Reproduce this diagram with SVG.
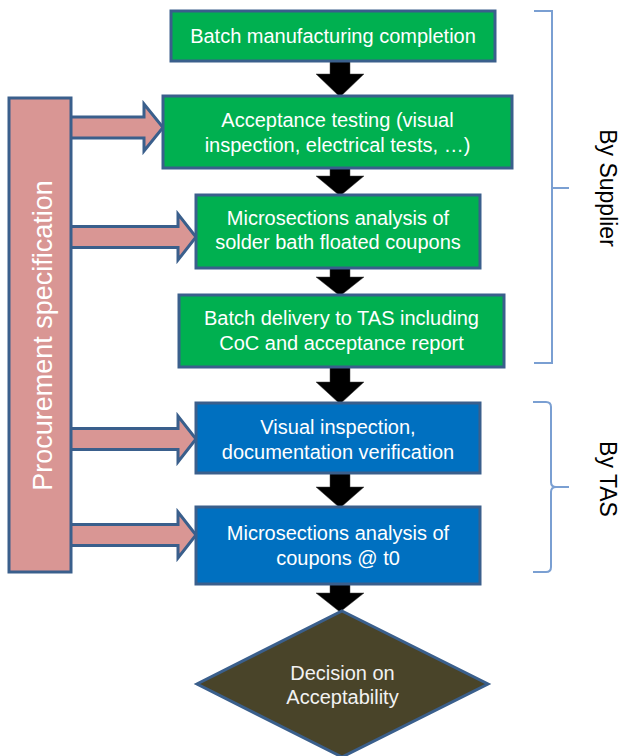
<svg xmlns="http://www.w3.org/2000/svg" width="622" height="756" viewBox="0 0 622 756">
<defs>
<style>
.box{stroke:#3A5F8C;stroke-width:3}
.green{fill:#00B050}
.blue{fill:#0070C0}
.t{font-family:"Liberation Sans",Arial,sans-serif;font-size:20px;fill:#FFFFFF;text-anchor:middle}
.side{font-family:"Liberation Sans",Arial,sans-serif;font-size:23px;fill:#000000;text-anchor:middle}
.pk{fill:#D99694;stroke:#3A5F8C;stroke-width:3;stroke-linejoin:miter}
.blk{fill:#000000;stroke:#404040;stroke-width:0.5}
.brace{fill:none;stroke:#7A9FD2;stroke-width:2}
</style>
</defs>
<rect width="622" height="756" fill="#FFFFFF"/>
<g id="connectors">
<polygon class="blk" points="330,61 350,61 350,74 364,74 340,97 316,74 330,74"/>
<polygon class="blk" points="330,168 350,168 350,176 364,176 340,196 316,176 330,176"/>
<polygon class="blk" points="330,268 350,268 350,277 364,277 340,296 316,277 330,277"/>
<polygon class="blk" points="330,367 350,367 350,382 364,382 340,404 316,382 330,382"/>
<polygon class="blk" points="330,473 350,473 350,487 364,487 340,508 316,487 330,487"/>
<polygon class="blk" points="330,584 350,584 350,593 364,593 340,612 316,593 330,593"/>
<polygon class="pk" points="70,117 144,117 144,104 163,127.5 144,151 144,138 70,138"/>
<polygon class="pk" points="70,226.5 178,226.5 178,214 196,237 178,260 178,247.5 70,247.5"/>
<polygon class="pk" points="70,428.5 178,428.5 178,416 196,439 178,462 178,449.5 70,449.5"/>
<polygon class="pk" points="70,524.5 178,524.5 178,512 196,535 178,558 178,545.5 70,545.5"/>
</g>
<g id="procurement">
<rect x="9" y="98" width="62" height="474" fill="#D99694" stroke="#3A5F8C" stroke-width="3"/>
<text transform="translate(52,335.5) rotate(-90)" style="font-family:'Liberation Sans',Arial,sans-serif;font-size:27px;fill:#FFFFFF;text-anchor:middle">Procurement specification</text>
</g>
<g id="n1">
<rect class="box green" x="171" y="11" width="324" height="50"/>
<text class="t" x="333" y="43">Batch manufacturing completion</text>
</g>
<g id="n2">
<rect class="box green" x="163" y="96" width="349" height="72"/>
<text class="t" x="337.5" y="127">Acceptance testing (visual</text>
<text class="t" x="337.5" y="152">inspection, electrical tests, …)</text>
</g>
<g id="n3">
<rect class="box green" x="196" y="195" width="284" height="73"/>
<text class="t" x="338" y="225">Microsections analysis of</text>
<text class="t" x="338" y="249">solder bath floated coupons</text>
</g>
<g id="n4">
<rect class="box green" x="179" y="295" width="325" height="72"/>
<text class="t" x="341.5" y="325">Batch delivery to TAS including</text>
<text class="t" x="341.5" y="350">CoC and acceptance report</text>
</g>
<g id="n5">
<rect class="box blue" x="196" y="403" width="284" height="70"/>
<text class="t" x="338" y="434">Visual inspection,</text>
<text class="t" x="338" y="459">documentation verification</text>
</g>
<g id="n6">
<rect class="box blue" x="196" y="507" width="284" height="77"/>
<text class="t" x="338" y="540">Microsections analysis of</text>
<text class="t" x="338" y="565">coupons @ t0</text>
</g>
<g id="decision">
<polygon points="342,611 488,684 342,757 197,684" fill="#494429" stroke="#3A5F8C" stroke-width="3"/>
<text class="t" x="342.5" y="680" style="fill:#F2F2F2">Decision on</text>
<text class="t" x="342.5" y="704" style="fill:#F2F2F2">Acceptability</text>
</g>
<g id="by-supplier">
<path class="brace" d="M534,11 H552 V363 H534 M552,188 H569"/>
<text class="side" transform="translate(600,188) rotate(90)">By Supplier</text>
</g>
<g id="by-tas">
<path class="brace" d="M533,402 H546 Q551,402 551,407 V482 Q551,487 556,487 H569 M556,487 Q551,487 551,492 V567 Q551,572 546,572 H533"/>
<text class="side" transform="translate(600,479) rotate(90)">By TAS</text>
</g>
</svg>
